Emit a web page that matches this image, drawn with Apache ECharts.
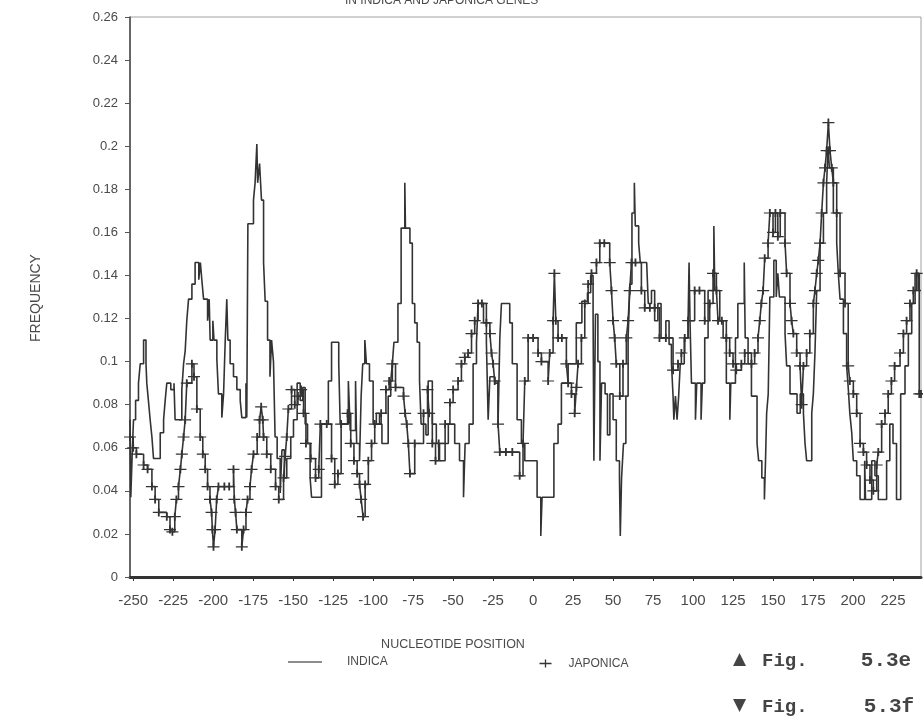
<!DOCTYPE html>
<html><head><meta charset="utf-8">
<script src="https://cdn.jsdelivr.net/npm/echarts@6/dist/echarts.min.js"></script>
<style>html,body{margin:0;padding:0;background:#fff}#c{width:923px;height:719px}</style>
</head><body><div id="c"></div>
<script>
// ---- data ----
const xTickValues = [-250,-225,-200,-175,-150,-125,-100,-75,-50,-25,0,25,50,75,100,125,150,175,200,225];
const seriesNames = ['INDICA','JAPONICA'];
// [nucleotide position, frequency] change points of the step curves
const indicaPoints = [
[-252,0.073],[-251.5,0.037],[-250.5,0.06],[-249.8,0.073],[-248.5,0.082],[-246.7,0.09],[-245.6,0.099],[-243.5,0.11],[-242,0.099],[-241.5,0.09],[-240.5,0.082],[-239.4,0.073],[-238.3,0.065],[-237.3,0.055],[-233.1,0.067],[-231,0.073],[-230,0.082],[-229,0.09],[-226.5,0.087],[-224.5,0.09],[-223.8,0.073],
[-219.6,0.087],[-218.5,0.099],[-217.5,0.105],[-216.5,0.119],[-215.4,0.129],[-213.3,0.136],[-211.3,0.146],[-209,0.138],[-208,0.146],[-207.1,0.138],[-206,0.129],[-203.5,0.119],[-202.5,0.129],[-201.9,0.11],[-200.2,0.119],[-199.5,0.11],[-197.7,0.101],[-196.7,0.085],[-194.6,0.074],[-193.5,0.085],[-192.5,0.109],[-191.5,0.129],[-190.8,0.11],[-189.4,0.099],[-187.3,0.093],[-185.2,0.087],[-183.1,0.082],[-182.1,0.074],[-179.5,0.09],[-179,0.074],
[-178.3,0.164],[-174.8,0.175],[-173.8,0.183],[-172.7,0.201],[-172.2,0.183],[-171,0.192],[-169.8,0.175],[-168.5,0.146],[-167.5,0.128],[-166,0.11],[-164.5,0.093],[-163.5,0.11],[-162.3,0.1],[-161.3,0.065],[-160,0.055],[-158.1,0.039],[-157,0.059],[-155.5,0.046],[-154,0.055],[-151.5,0.065],[-149.8,0.073],[-147.5,0.09],[-145.6,0.082],[-144,0.088],[-142.5,0.071],[-141,0.062],[-139.4,0.046],[-138.5,0.037],
[-132.3,0.071],[-128,0.091],[-126,0.109],[-121.5,0.099],[-120.6,0.071],[-115.5,0.091],[-114.3,0.068],[-111,0.091],[-110.3,0.062],[-108.5,0.054],[-107.5,0.084],[-106.5,0.099],[-105.2,0.11],[-104.2,0.099],[-102.3,0.091],[-100,0.071],[-98,0.076],[-96,0.071],[-94.5,0.062],
[-90.6,0.084],[-89,0.091],[-88,0.099],[-87,0.109],[-84.5,0.127],[-82.5,0.162],[-80.2,0.183],[-79.8,0.162],[-77,0.155],[-75.5,0.127],[-74,0.118],[-72.5,0.109],[-71,0.091],[-70,0.071],[-67,0.066],[-65.6,0.091],[-63,0.071],[-60.5,0.062],[-58.5,0.054],[-55,0.062],[-53,0.071],[-49,0.062],[-46,0.054],[-43.5,0.037],[-42.5,0.062],[-40,0.071],[-37.5,0.099],[-35.4,0.109],[-34.4,0.127],[-31,0.118],[-29.2,0.109],[-28.1,0.073],[-27,0.093],[-24,0.09],[-21.9,0.071],[-20.8,0.111],[-19.8,0.127],[-14.6,0.118],[-13,0.099],[-10,0.073],[-7.3,0.062],[-5.2,0.054],
[2.5,0.037],[4.8,0.019],[5.6,0.037],[13,0.062],[15.6,0.071],[17.7,0.09],[21.9,0.099],[27,0.118],[30.5,0.128],[34,0.132],[36,0.14],[37.5,0.122],[38,0.054],[39,0.122],[40.5,0.1],[41.8,0.054],[42.8,0.09],[45,0.085],[46.5,0.066],[48,0.085],[50,0.073],[52,0.054],[54,0.046],[54.5,0.019],[55.3,0.046],[56.5,0.062],[58,0.084],[59.4,0.111],[60.5,0.136],[61.8,0.169],[63.3,0.183],[63.9,0.163],[66,0.155],[67,0.146],[71,0.146],[72,0.127],[74,0.133],[76,0.119],[78,0.127],[80,0.111],[83,0.119],[85,0.108],[86.5,0.099],[87.5,0.084],[88,0.073],[89,0.084],[90,0.073],[91,0.084],[92,0.099],[94.5,0.111],[96.9,0.119],[97.5,0.146],[98.1,0.119],[99,0.09],[101.5,0.073],[102.3,0.09],[105,0.073],[105.8,0.09],[107.3,0.111],[109.4,0.133],[113,0.163],[113.6,0.133],[116.7,0.119],[118.8,0.111],[120.8,0.09],[123,0.073],[123.6,0.09],[126.5,0.111],[128,0.127],[132,0.146],[132.6,0.111],[134.4,0.099],[136.5,0.084],[140,0.062],[141,0.054],[143,0.046],[144.6,0.036],[145.3,0.054],[146,0.076],[147,0.085],[148,0.13],[150.5,0.147],[152,0.13],[153,0.141],[154,0.13],[157.5,0.113],[158.5,0.098],[160.6,0.085],[165,0.076],[167,0.085],[169,0.076],[170,0.062],[171,0.054],[174.2,0.076],[175.2,0.085],[176.2,0.104],[177.3,0.133],[179.4,0.155],[181.5,0.169],[183.5,0.183],[184.4,0.2],[185.2,0.19],[187.7,0.169],[189.8,0.155],[190.8,0.141],[191.9,0.129],[194,0.113],[196,0.098],[197,0.088],[198,0.076],[199.2,0.067],[200.2,0.054],[202.3,0.047],[204.4,0.036],[207.3,0.054],[207.8,0.036],[211.7,0.054],[213.7,0.047],[215.8,0.036],[221,0.054],[223,0.071],[225,0.062],[227.2,0.036],[229.8,0.085],[232.5,0.098],[234.6,0.113],[236.7,0.127],[238.8,0.141],[240.8,0.133],[242.5,0.133]
];
const japonicaPoints = [
[-252,0.065],[-250,0.06],[-248,0.057],[-243.5,0.052],[-241,0.05],[-238.3,0.042],[-236.3,0.036],[-234,0.03],[-229,0.028],[-227,0.022],[-225.5,0.021],[-224,0.028],[-223,0.036],[-221.7,0.042],[-220.5,0.05],[-219.6,0.057],[-218.5,0.065],[-217.5,0.073],[-216.5,0.09],[-213.3,0.099],[-212,0.093],[-210.2,0.078],[-208.1,0.065],[-206.5,0.057],[-205,0.05],[-203.5,0.042],[-202,0.036],[-201,0.03],[-200.5,0.022],[-199.8,0.014],[-198.8,0.022],[-197.8,0.036],[-196.7,0.042],[-193,0.042],[-190,0.042],[-187.3,0.05],[-186.8,0.036],[-186,0.03],[-185.2,0.022],[-182.1,0.014],[-181,0.022],[-179.5,0.03],[-178.5,0.036],[-177,0.042],[-176,0.05],[-174.8,0.057],[-172.5,0.065],[-171,0.073],[-170,0.079],[-169,0.073],[-168.5,0.065],[-166.5,0.057],[-164,0.05],[-161,0.042],[-159,0.036],[-156,0.046],[-155,0.056],[-154,0.065],[-153,0.078],[-151,0.087],[-149,0.08],[-147,0.084],[-145,0.087],[-143.5,0.076],[-142,0.062],[-139,0.055],[-136,0.046],[-134,0.05],[-133,0.071],[-129,0.071],[-126,0.055],[-124,0.043],[-122,0.048],[-120,0.071],[-116,0.076],[-114,0.062],[-112,0.054],[-110,0.048],[-108.5,0.043],[-107.5,0.036],[-106.3,0.028],[-105,0.043],[-103,0.054],[-101,0.062],[-99,0.071],[-95,0.076],[-92,0.087],[-90,0.091],[-88,0.099],[-86,0.088],[-81,0.084],[-80,0.076],[-79,0.071],[-78,0.062],[-77,0.048],[-74,0.062],[-68.5,0.076],[-66,0.087],[-65,0.076],[-63,0.062],[-61,0.054],[-59,0.062],[-55,0.071],[-52,0.081],[-50,0.087],[-46.9,0.091],[-44.8,0.099],[-42.7,0.102],[-40.6,0.104],[-38.5,0.113],[-36.5,0.119],[-34.4,0.127],[-32,0.127],[-29.2,0.118],[-27,0.113],[-26,0.104],[-25,0.099],[-24,0.091],[-21.9,0.071],[-20.8,0.058],[-17,0.058],[-13,0.058],[-8.4,0.047],[-6.3,0.062],[-5.2,0.091],[-3.1,0.111],[0,0.111],[3.1,0.104],[5.2,0.1],[9.4,0.091],[10.4,0.104],[12.5,0.119],[13.3,0.141],[14.2,0.119],[15.6,0.111],[18,0.111],[20.8,0.099],[21.9,0.09],[24,0.085],[26,0.076],[27.1,0.088],[28.1,0.099],[30.2,0.111],[32.3,0.127],[34.4,0.136],[36.5,0.141],[39.6,0.146],[41.7,0.155],[44.5,0.155],[47.9,0.146],[49,0.133],[50,0.119],[51,0.111],[52,0.099],[54.2,0.084],[56.2,0.099],[58.3,0.111],[59.4,0.119],[60.4,0.133],[61.5,0.146],[64,0.146],[67.7,0.133],[69.8,0.125],[73,0.125],[76,0.125],[79,0.111],[83,0.111],[87.5,0.096],[90.6,0.099],[92.7,0.104],[94.8,0.111],[96.9,0.119],[101,0.133],[104,0.133],[107.3,0.119],[110.4,0.127],[112.5,0.141],[114.6,0.133],[115.6,0.119],[118,0.119],[120.8,0.111],[122.9,0.104],[125,0.099],[127,0.096],[130.2,0.099],[132.3,0.104],[136.5,0.099],[138.5,0.104],[140.6,0.111],[141.7,0.119],[142.7,0.127],[143.8,0.133],[144.8,0.148],[146.9,0.155],[148,0.169],[150,0.16],[151.5,0.169],[153,0.158],[154.5,0.169],[157.5,0.155],[158.5,0.141],[160.6,0.127],[161.6,0.119],[162.7,0.113],[164.8,0.104],[166.9,0.098],[167.9,0.08],[169,0.098],[171,0.104],[173,0.113],[175.2,0.127],[176.2,0.133],[177.3,0.141],[178.3,0.147],[179.4,0.155],[180.4,0.169],[181.5,0.183],[182.5,0.19],[183.5,0.198],[184.6,0.211],[185.6,0.198],[186.7,0.19],[187.7,0.183],[189.8,0.169],[191.9,0.141],[195,0.127],[197,0.098],[198,0.091],[200.2,0.085],[202.3,0.076],[204.4,0.062],[206.5,0.058],[208.5,0.052],[210.6,0.045],[212.7,0.04],[214.8,0.052],[215.8,0.058],[217.9,0.071],[220,0.076],[222,0.085],[224,0.091],[226,0.098],[229.4,0.104],[231.5,0.113],[233.5,0.119],[235.6,0.127],[237.7,0.133],[239.8,0.141],[241.4,0.085],[242.5,0.085]
];

// ---- chart ----
const ink = '#333333';
const txt = '#4a4a4a';
const plusPath = 'path://M0,4L12,4M6,0L6,8';
const chart = echarts.init(document.getElementById('c'), null, {renderer: 'canvas'});
const option = {
  animation: false,
  backgroundColor: '#ffffff',
  grid: {left: 130, top: 17, right: 2, bottom: 142, show: true, borderColor: '#a0a0a0', borderWidth: 1, backgroundColor: 'transparent'},
  xAxis: {
    type: 'value', min: -252, max: 242.5,
    splitLine: {show: false},
    axisLine: {onZero: false, lineStyle: {color: '#333', width: 3}},
    axisTick: {customValues: xTickValues, length: 4, lineStyle: {color: '#333', width: 1}},
    axisLabel: {customValues: xTickValues, margin: 16, fontSize: 15, color: txt, fontFamily: 'Liberation Sans'}
  },
  yAxis: {
    type: 'value', min: 0, max: 0.26, interval: 0.02,
    splitLine: {show: false},
    axisLine: {show: true, onZero: false, lineStyle: {color: '#444', width: 1.5}},
    axisTick: {show: true, length: 5, lineStyle: {color: '#555'}},
    axisLabel: {margin: 12, fontSize: 13, color: txt, fontFamily: 'Liberation Sans',
      formatter: v => String(parseFloat(v.toFixed(2)))}
  },
  legend: [
    {data: [{name: seriesNames[0], icon: 'rect'}], left: 283, top: 651, itemWidth: 34, itemHeight: 1.5,
     itemStyle: {color: '#666'},
     textStyle: {fontSize: 12, color: txt, fontFamily: 'Liberation Sans', padding: [0, 0, 0, 20]}},
    {data: [{name: seriesNames[1], icon: plusPath}], left: 532, top: 652, itemWidth: 12, itemHeight: 8,
     itemStyle: {color: 'none', borderColor: ink, borderWidth: 1.3},
     textStyle: {fontSize: 12, color: txt, fontFamily: 'Liberation Sans', padding: [0, 0, 0, 12]}}
  ],
  series: [
    {name: seriesNames[0], type: 'line', step: 'end', data: indicaPoints, symbol: 'none',
     lineStyle: {color: ink, width: 1.6}, itemStyle: {color: ink}},
    {name: seriesNames[1], type: 'line', step: 'end', data: japonicaPoints, symbol: plusPath, symbolSize: [12, 8],
     itemStyle: {color: 'none', borderColor: ink, borderWidth: 1.5},
     lineStyle: {color: ink, width: 1.6}}
  ],
  graphic: [
    {type: 'text', left: 345, top: -5, style: {text: 'IN INDICA AND JAPONICA GENES', fontSize: 12, fill: txt, fontFamily: 'Liberation Sans'}},
    {type: 'text', x: 36, y: 298, rotation: Math.PI / 2, style: {text: 'FREQUENCY', fontSize: 14, fill: txt, fontFamily: 'Liberation Sans', align: 'center', verticalAlign: 'middle'}},
    {type: 'text', x: 453, y: 645, style: {text: 'NUCLEOTIDE POSITION', fontSize: 12.5, fill: txt, fontFamily: 'Liberation Sans', align: 'center', verticalAlign: 'middle'}},
    {type: 'text', x: 733, y: 660, style: {text: '▲', fontSize: 17, fill: '#444', fontFamily: 'DejaVu Sans', verticalAlign: 'middle'}},
    {type: 'text', x: 762, y: 661, style: {text: 'Fig.', fontSize: 19, fontWeight: 'bold', fill: '#444', fontFamily: 'Liberation Mono', verticalAlign: 'middle'}},
    {type: 'text', x: 886, y: 661, style: {text: '5.3e', fontSize: 21, fontWeight: 'bold', fill: '#444', fontFamily: 'Liberation Mono', align: 'center', verticalAlign: 'middle'}},
    {type: 'text', x: 733, y: 706, style: {text: '▼', fontSize: 17, fill: '#444', fontFamily: 'DejaVu Sans', verticalAlign: 'middle'}},
    {type: 'text', x: 762, y: 707, style: {text: 'Fig.', fontSize: 19, fontWeight: 'bold', fill: '#444', fontFamily: 'Liberation Mono', verticalAlign: 'middle'}},
    {type: 'text', x: 889, y: 707, style: {text: '5.3f', fontSize: 21, fontWeight: 'bold', fill: '#444', fontFamily: 'Liberation Mono', align: 'center', verticalAlign: 'middle'}}
  ]
};
chart.setOption(option);
</script>
</body></html>
